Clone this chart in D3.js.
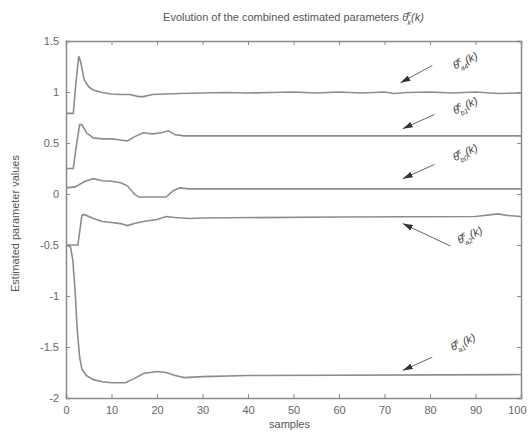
<!DOCTYPE html>
<html>
<head>
<meta charset="utf-8">
<script src="https://cdn.jsdelivr.net/npm/d3@7"></script>
<style>
  body { margin: 0; background: #fff; }
  svg text { font-family: "Liberation Sans", Arial, sans-serif; fill: #555; }
</style>
</head>
<body>
<div id="chart"></div>
<script>
// ----------------------------------
// DATA
// ----------------------------------
const xTicks = [0, 10, 20, 30, 40, 50, 60, 70, 80, 90, 100];
const yTicks = [-2, -1.5, -1, -0.5, 0, 0.5, 1, 1.5];

// [sample, value]
const paramA4 = [[0,0.79],[1.6,0.79],[2.2,1.1],[2.8,1.35],[3.2,1.3],[4,1.12],[5,1.05],[6,1.02],[8,0.995],[10,0.98],[12,0.975],[14,0.975],[16,0.955],[17,0.955],[19,0.975],[22,0.98],[25,0.985],[30,0.99],[35,0.995],[40,0.99],[45,0.995],[50,1.0],[55,0.99],[60,1.0],[65,0.99],[70,1.0],[72,0.985],[75,0.995],[80,1.0],[85,0.99],[90,1.0],[95,0.985],[100,0.99]];
const paramB1 = [[0,0.25],[1.6,0.25],[2.2,0.45],[3,0.68],[3.5,0.68],[4.5,0.6],[6,0.55],[8,0.54],[10,0.54],[12,0.53],[13.5,0.52],[15,0.56],[17,0.6],[19,0.59],[21,0.6],[22.5,0.62],[24,0.58],[26,0.57],[30,0.57],[100,0.57]];
const paramB0 = [[0,0.06],[2,0.07],[4,0.12],[6,0.15],[8,0.13],[10,0.125],[12,0.11],[13.5,0.08],[15,0.0],[16,-0.03],[19,-0.03],[22,-0.03],[23.5,0.03],[25,0.06],[27,0.05],[100,0.05]];
const paramA2 = [[0,-0.5],[2.6,-0.5],[3.5,-0.21],[4,-0.2],[6,-0.24],[8,-0.27],[10,-0.28],[12,-0.29],[13.5,-0.31],[15,-0.29],[17,-0.27],[20,-0.25],[22,-0.22],[24,-0.23],[27,-0.24],[30,-0.235],[60,-0.225],[90,-0.22],[95,-0.195],[97,-0.21],[100,-0.22]];
const paramA1 = [[0,-0.5],[1,-0.52],[1.5,-0.65],[2,-0.95],[2.5,-1.35],[3,-1.6],[3.5,-1.72],[4.5,-1.78],[6,-1.82],[8,-1.84],[10,-1.85],[13,-1.85],[15,-1.81],[17,-1.76],[20,-1.74],[22,-1.75],[24,-1.78],[26,-1.8],[30,-1.79],[40,-1.78],[100,-1.77]];

const seriesList = [paramA4, paramB1, paramB0, paramA2, paramA1];

// annotation labels: subscript, label anchor (sample, value), arrow tail & head
const labelSubs = ["a4", "b1", "b0", "a2", "a1"];
const labelAt = [[85.5, 1.22], [85.5, 0.78], [85.5, 0.32], [86.5, -0.49], [85, -1.54]];
const arrowFrom = [[80.5, 1.26], [81, 0.78], [81, 0.29], [84.5, -0.51], [80.5, -1.6]];
const arrowTo = [[73.5, 1.09], [74, 0.64], [74, 0.15], [74, -0.29], [74, -1.73]];

// ----------------------------------
// SETUP
// ----------------------------------
const width = 528, height = 438;
const margin = {top: 41, right: 7, bottom: 40, left: 66};
const innerWidth = width - margin.left - margin.right,
      innerHeight = height - margin.top - margin.bottom;

const svg = d3.select('#chart').append('svg')
  .attr('width', width).attr('height', height);

const xScale = d3.scaleLinear().domain([0, 100]).range([0, innerWidth]);
const yScale = d3.scaleLinear().domain([-2, 1.5]).range([innerHeight, 0]);

const g = svg.append('g').attr('transform', `translate(${margin.left},${margin.top})`);

// ----------------------------------
// AXES (matlab style, ticks inward on all 4 sides)
// ----------------------------------
const axisColor = '#8a8a8a';
const tickFmt = d => String(d);

const xAxis = g.append('g').attr('transform', `translate(0,${innerHeight})`)
  .call(d3.axisBottom(xScale).tickValues(xTicks).tickSize(-4).tickPadding(8).tickFormat(tickFmt));
const xTop = g.append('g')
  .call(d3.axisTop(xScale).tickValues(xTicks).tickSize(-4).tickFormat(''));
const yAxis = g.append('g')
  .call(d3.axisLeft(yScale).tickValues(yTicks).tickSize(-4).tickPadding(7).tickFormat(tickFmt));
const yRight = g.append('g').attr('transform', `translate(${innerWidth},0)`)
  .call(d3.axisRight(yScale).tickValues(yTicks).tickSize(-4).tickFormat(''));

// the mirrored axes carry no labels
xTop.selectAll('text').remove();
yRight.selectAll('text').remove();

[xAxis, xTop, yAxis, yRight].forEach(a => {
  a.selectAll('path').attr('stroke', axisColor).attr('stroke-width', 1.5);
  a.selectAll('line').attr('stroke', axisColor);
  a.selectAll('text').style('font-size', '11px').style('fill', '#666');
});
// keep the last x label inside the window
xAxis.selectAll('.tick').filter(d => d === 100).select('text').attr('text-anchor', 'end').attr('dx', 5);

// ----------------------------------
// LINES
// ----------------------------------
const line = d3.line().x(d => xScale(d[0])).y(d => yScale(d[1]));

g.selectAll('path.series').data(seriesList).enter()
  .append('path').attr('class', 'series')
  .attr('d', line)
  .attr('fill', 'none')
  .attr('stroke', '#8c8c8c')
  .attr('stroke-width', 1.6);

// ----------------------------------
// ANNOTATIONS
// ----------------------------------
svg.append('defs').append('marker')
  .attr('id', 'arrow').attr('viewBox', '0 0 10 6')
  .attr('refX', 10).attr('refY', 3)
  .attr('markerWidth', 10).attr('markerHeight', 6)
  .attr('orient', 'auto')
  .append('path').attr('d', 'M0,0 L10,3 L0,6 Z').attr('fill', '#333');

g.selectAll('line.arrow').data(arrowFrom).enter()
  .append('line').attr('class', 'arrow')
  .attr('x1', d => xScale(d[0])).attr('y1', d => yScale(d[1]))
  .attr('x2', (d, i) => xScale(arrowTo[i][0])).attr('y2', (d, i) => yScale(arrowTo[i][1]))
  .attr('stroke', '#666').attr('stroke-width', 1)
  .attr('marker-end', 'url(#arrow)');

labelAt.forEach((p, i) => {
  const t = g.append('text')
    .attr('x', xScale(p[0])).attr('y', yScale(p[1]))
    .attr('transform', `rotate(-25,${xScale(p[0])},${yScale(p[1])})`)
    .style('font-size', '11px').style('font-style', 'italic').style('fill', '#444');
  t.append('tspan').text('θ\u0302');
  t.append('tspan').attr('dy', -5).style('font-size', '7px').text('c');
  t.append('tspan').attr('dx', -4).attr('dy', 9).style('font-size', '7px').text(labelSubs[i]);
  t.append('tspan').attr('dy', -4).text('(k)');
});

// ----------------------------------
// TITLES
// ----------------------------------
const title = svg.append('text')
  .attr('x', margin.left + innerWidth / 2).attr('y', 21)
  .attr('text-anchor', 'middle').style('font-size', '11px').style('fill', '#555');
title.append('tspan').text('Evolution of the combined estimated parameters ');
title.append('tspan').style('font-style', 'italic').text('θ\u0302');
title.append('tspan').attr('dy', -5).style('font-size', '7px').style('font-style', 'italic').text('c');
title.append('tspan').attr('dx', -4).attr('dy', 9).style('font-size', '7px').style('font-style', 'italic').text('k');
title.append('tspan').attr('dy', -4).style('font-style', 'italic').text('(k)');

svg.append('text')
  .attr('x', margin.left + innerWidth / 2 - 4).attr('y', 428)
  .attr('text-anchor', 'middle').style('font-size', '11px').text('samples');

svg.append('text')
  .attr('transform', `translate(19,${margin.top + innerHeight / 2 + 4}) rotate(-90)`)
  .attr('text-anchor', 'middle').style('font-size', '11px').text('Estimated parameter values');
</script>
</body>
</html>
